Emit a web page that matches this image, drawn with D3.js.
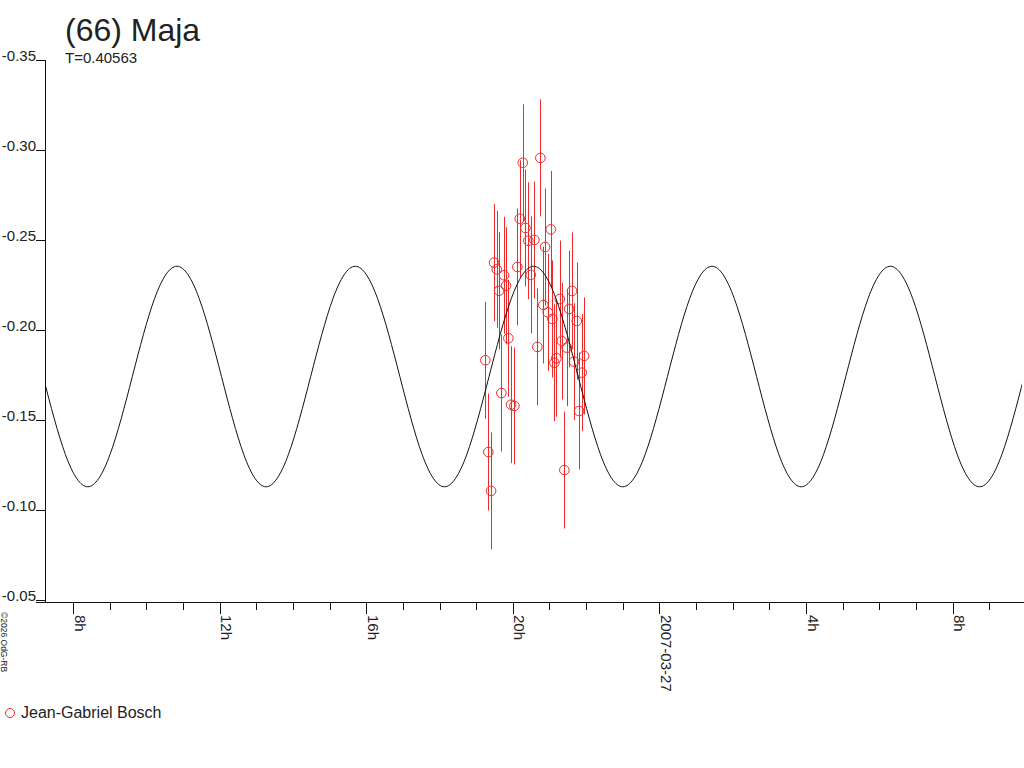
<!DOCTYPE html>
<html>
<head>
<meta charset="utf-8">
<script src="https://cdn.jsdelivr.net/npm/d3@7.9.0/dist/d3.min.js"></script>
<style>
  body { margin: 0; background: #fff; }
  svg text { font-family: "Liberation Sans", Arial, sans-serif; fill: #222; }
</style>
</head>
<body>
<svg id="chart" width="1024" height="768"></svg>
<script>
// observations: hours since 2007-03-26 00:00 UT, relative magnitude, error
const obsHours = [19.250, 19.332, 19.406, 19.488, 19.561, 19.624, 19.687, 19.761, 19.815, 19.878,
                  19.952, 20.042, 20.123, 20.189, 20.271, 20.342, 20.424, 20.489, 20.588, 20.669,
                  20.751, 20.833, 20.880, 20.953, 21.035, 21.079, 21.134, 21.188, 21.281, 21.335,
                  21.406, 21.472, 21.535, 21.616, 21.671, 21.745, 21.808, 21.881, 21.944];
const obsMags = [-0.1832, -0.1322, -0.1106, -0.2374, -0.2337, -0.2218, -0.1650, -0.2304, -0.2246, -0.1954,
                 -0.1585, -0.1578, -0.2350, -0.2618, -0.2929, -0.2567, -0.2496, -0.2306, -0.2500, -0.1906,
                 -0.2956, -0.2139, -0.2461, -0.2098, -0.2559, -0.2061, -0.1818, -0.1843, -0.2172, -0.1939,
                 -0.1222, -0.1902, -0.2117, -0.2217, -0.1824, -0.2050, -0.1550, -0.1763, -0.1856];
const obsErrs = [0.0325, 0.0325, 0.0325, 0.0325, 0.0325, 0.0325, 0.0325, 0.0325, 0.0325, 0.0325,
                 0.0325, 0.0325, 0.0325, 0.0325, 0.0325, 0.0325, 0.0325, 0.0325, 0.0325, 0.0325,
                 0.0325, 0.0325, 0.0325, 0.0325, 0.0325, 0.0325, 0.0325, 0.0325, 0.0325, 0.0325,
                 0.0325, 0.0325, 0.0325, 0.0325, 0.0325, 0.0325, 0.0325, 0.0325, 0.0325];

// fitted curve at regular steps
const fitHours = [7.182, 7.791, 8.399, 9.007, 9.616, 10.224, 10.833, 11.441, 12.050, 12.658,
                  13.266, 13.875, 14.483, 15.092, 15.700, 16.308, 16.917, 17.525, 18.134, 18.742,
                  19.350, 19.959, 20.567, 21.176, 21.784, 22.393, 23.001, 23.609, 24.218, 24.826,
                  25.435, 26.043, 26.652, 27.260, 27.869, 28.477, 29.085, 29.694, 30.302, 30.911,
                  31.519, 32.128, 32.736, 33.344, 33.953];
const fitMags = [-0.1741, -0.1308, -0.1129, -0.1308, -0.1741, -0.2175, -0.2354, -0.2175, -0.1741, -0.1308,
                 -0.1129, -0.1308, -0.1741, -0.2175, -0.2354, -0.2175, -0.1741, -0.1308, -0.1129, -0.1308,
                 -0.1741, -0.2175, -0.2354, -0.2175, -0.1741, -0.1308, -0.1129, -0.1308, -0.1741, -0.2175,
                 -0.2354, -0.2175, -0.1741, -0.1308, -0.1129, -0.1308, -0.1741, -0.2175, -0.2354, -0.2175,
                 -0.1741, -0.1308, -0.1129, -0.1308, -0.1741];

const yTicks = [-0.35, -0.30, -0.25, -0.20, -0.15, -0.10, -0.05];
const xMajorHours = [8, 12, 16, 20, 24, 28, 32];
const xMajorLabels = ["8h", "12h", "16h", "20h", "2007-03-27", "4h", "8h"];

const title = "(66) Maja";
const subtitle = "T=0.40563";
const observer = "Jean-Gabriel Bosch";
const copyright = "©2026 OdG-RB";

const red = "#ee2a2a";
const day0 = Date.UTC(2007, 2, 26);
const toDate = h => new Date(day0 + h * 3600000);

const svg = d3.select("#chart");

const x = d3.scaleUtc()
    .domain([toDate(7.2333), toDate(33.894)])
    .range([45, 1022]);
const y = d3.scaleLinear()
    .domain([-0.35, -0.05])
    .range([60, 600]);

svg.append("defs").append("clipPath").attr("id", "plot")
    .append("rect").attr("x", 45).attr("y", 0).attr("width", 977).attr("height", 602);

// y axis
const yAxis = svg.append("g")
    .attr("transform", "translate(45,0)")
    .call(d3.axisLeft(y).tickValues(yTicks).tickSize(9).tickPadding(0)
        .tickFormat(d => d.toFixed(2)));
yAxis.select(".domain").remove();
yAxis.selectAll("line").attr("stroke", "#111").attr("shape-rendering", "crispEdges");
yAxis.selectAll("text")
    .attr("x", -9).attr("dy", 0)
    .style("font-size", "15px")
    .attr("font-family", null);

svg.append("line")
    .attr("x1", 45).attr("x2", 45).attr("y1", 60).attr("y2", 602)
    .attr("stroke", "#111").attr("shape-rendering", "crispEdges");

// x axis: a tick every hour, longer and labelled every 4 h
const hourTicks = d3.utcHour.range(x.domain()[0], x.domain()[1]);
const isMajor = d => xMajorHours.includes((d - day0) / 3600000);
const labelOf = d => xMajorLabels[xMajorHours.indexOf((d - day0) / 3600000)];

const xAxis = svg.append("g")
    .attr("transform", "translate(0,602)")
    .call(d3.axisBottom(x).tickValues(hourTicks).tickSize(8)
        .tickFormat(d => isMajor(d) ? labelOf(d) : ""));
xAxis.select(".domain").remove();
xAxis.selectAll("line")
    .attr("y2", d => isMajor(d) ? 12 : 8)
    .attr("stroke", "#111").attr("shape-rendering", "crispEdges");
xAxis.selectAll("text")
    .attr("x", 0).attr("y", 0).attr("dy", 0)
    .attr("transform", "translate(1,13) rotate(90)")
    .attr("text-anchor", "start")
    .attr("font-family", null)
    .style("font-size", "15px");

svg.append("line")
    .attr("x1", 36).attr("x2", 1024).attr("y1", 602).attr("y2", 602)
    .attr("stroke", "#111").attr("shape-rendering", "crispEdges");

// observations
const obs = obsHours.map((h, i) => ({ t: toDate(h), m: obsMags[i], e: obsErrs[i] }));
const pts = svg.append("g").attr("clip-path", "url(#plot)");
pts.selectAll("line.err")
    .data(obs)
    .join("line")
    .attr("class", "err")
    .attr("x1", d => Math.round(x(d.t)) + 0.5)
    .attr("x2", d => Math.round(x(d.t)) + 0.5)
    .attr("y1", d => y(d.m - d.e))
    .attr("y2", d => y(d.m + d.e))
    .attr("stroke", red).attr("stroke-width", 1);
pts.selectAll("circle")
    .data(obs)
    .join("circle")
    .attr("cx", d => x(d.t))
    .attr("cy", d => y(d.m))
    .attr("r", 4.8)
    .attr("fill", "none")
    .attr("stroke", red).attr("stroke-width", 1);

// fitted curve
const fit = fitHours.map((h, i) => ({ t: toDate(h), m: fitMags[i] }));
svg.append("path")
    .datum(fit)
    .attr("clip-path", "url(#plot)")
    .attr("d", d3.line().x(d => x(d.t)).y(d => y(d.m)).curve(d3.curveNatural))
    .attr("fill", "none")
    .attr("stroke", "#111")
    .attr("stroke-width", 1);

// titles
svg.append("text").attr("x", 65).attr("y", 41).style("font-size", "32px").text(title);
svg.append("text").attr("x", 65).attr("y", 63).style("font-size", "15px").text(subtitle);

// legend
svg.append("circle").attr("cx", 10).attr("cy", 713).attr("r", 4.5)
    .attr("fill", "none").attr("stroke", red);
svg.append("text").attr("x", 21).attr("y", 718).style("font-size", "16px").text(observer);

// copyright
svg.append("text")
    .attr("transform", "translate(1,612) rotate(90)")
    .style("font-size", "8.5px")
    .text(copyright);
</script>
</body>
</html>
